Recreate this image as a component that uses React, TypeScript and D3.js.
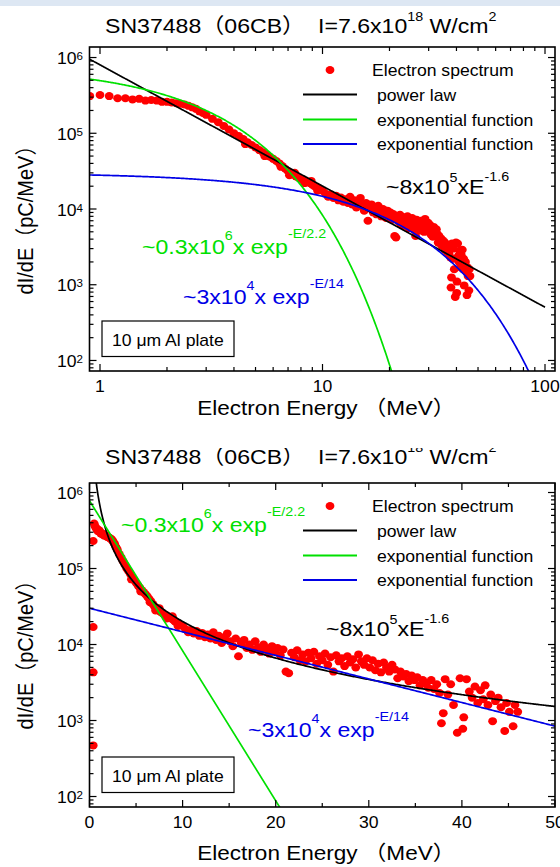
import React from 'react';
import * as d3 from 'd3';

const W = 560;
const H = 867;
const SX = 1.1; // text is drawn slightly wide
const FONT = "'Liberation Sans', Arial, 'Noto Sans CJK SC', sans-serif";

const RED = '#ff0000';
const GREEN = '#00e000';
const BLUE = '#0000e6';
const BLACK = '#000000';

// Fitted curves
const powerAmp = 8e5;
const powerIdx = -1.6;
const hotAmp = 7.8e5;
const hotTemp = 2.2;
const warmAmp = 3e4;
const warmTemp = 14;

// Measured electron spectrum: [energy MeV, dI/dE pC/MeV]
const spectrum: [number, number][] = [
  [0.4, 2.3e5], [0.4, 1.7e4], [0.4, 4.3e3], [0.4, 470],
  [0.5, 3.9e5], [0.6, 3.6e5], [0.7, 3.4e5], [0.8, 3.3e5], [0.9, 3.1e5], [1.0, 3.2e5],
  [1.1, 3.1e5], [1.2, 2.9e5], [1.3, 2.9e5], [1.4, 2.8e5], [1.5, 2.85e5], [1.6, 2.7e5],
  [1.7, 2.75e5], [1.8, 2.7e5], [1.9, 2.6e5], [2.0, 2.6e5], [2.1, 2.55e5], [2.2, 2.5e5],
  [2.3, 2.45e5], [2.4, 2.4e5], [2.5, 2.3e5], [2.6, 2.2e5], [2.7, 2.1e5], [2.8, 1.95e5],
  [2.9, 1.85e5], [3.0, 1.75e5],
  [3.2, 1.55e5], [3.4, 1.4e5], [3.6, 1.25e5], [3.8, 1.12e5], [4.0, 1.0e5], [4.2, 9.2e4],
  [4.4, 8.4e4], [4.5, 7.2e4], [4.6, 7.6e4], [4.8, 7.0e4], [5.0, 6.5e4], [5.2, 6.0e4],
  [5.4, 5.6e4], [5.5, 5.0e4], [5.6, 5.2e4], [5.8, 4.9e4], [6.0, 4.6e4], [6.2, 4.3e4],
  [6.4, 4.0e4], [6.5, 3.6e4], [6.6, 3.7e4], [6.8, 3.4e4], [7.0, 3.15e4], [7.1, 2.8e4],
  [7.2, 3.0e4], [7.4, 2.85e4], [7.5, 3.0e4], [7.6, 2.7e4], [7.8, 2.6e4], [8.0, 2.5e4],
  [8.2, 2.45e4], [8.3, 2.2e4], [8.4, 2.35e4], [8.6, 2.25e4], [8.8, 2.2e4], [8.9, 2.35e4],
  [9.0, 2.1e4], [9.2, 2.0e4], [9.4, 1.95e4], [9.5, 1.75e4], [9.6, 1.85e4], [9.8, 1.8e4],
  [10.0, 1.75e4],
  [10.3, 1.6e4], [10.6, 1.45e4], [10.9, 1.55e4], [11.2, 1.4e4], [11.5, 1.5e4], [11.8, 1.3e4],
  [12.1, 1.42e4], [12.4, 1.25e4], [12.7, 1.35e4], [13.0, 1.2e4], [13.3, 1.45e4], [13.6, 1.15e4],
  [13.9, 1.3e4], [14.2, 1.05e4], [14.5, 1.25e4], [14.8, 1.4e4], [15.1, 1.1e4], [15.4, 9.5e3],
  [15.7, 1.2e4], [16.0, 7.0e3], [16.3, 1.05e4], [16.6, 1.15e4], [16.9, 9.0e3], [17.2, 1.0e4],
  [17.5, 8.5e3], [17.8, 1.1e4], [18.1, 9.2e3], [18.4, 8.0e3], [18.7, 1.0e4], [19.0, 8.8e3],
  [19.3, 7.6e3], [19.6, 9.5e3], [19.9, 8.2e3], [20.2, 9.0e3], [20.5, 7.2e3], [20.8, 8.6e3],
  [21.1, 4.4e3], [21.4, 4.2e3], [21.7, 7.8e3], [22.0, 6.8e3], [22.3, 8.4e3], [22.6, 6.2e3],
  [22.9, 7.4e3], [23.2, 6.0e3], [23.5, 7.8e3], [23.8, 6.6e3], [24.1, 8.0e3], [24.4, 5.6e3],
  [24.7, 7.0e3], [25.0, 6.2e3], [25.3, 7.6e3], [25.6, 5.4e3], [25.9, 6.8e3], [26.2, 4.4e3],
  [26.5, 7.2e3], [26.8, 6.0e3], [27.1, 6.6e3], [27.4, 5.2e3], [27.7, 7.0e3], [28.0, 5.8e3],
  [28.3, 6.4e3], [28.6, 5.0e3], [28.9, 7.4e3], [29.2, 6.0e3], [29.5, 5.4e3], [29.8, 6.6e3],
  [30.1, 5.0e3], [30.4, 6.2e3], [30.7, 4.6e3], [31.0, 5.6e3], [31.3, 4.3e3], [31.6, 5.8e3],
  [31.9, 5.0e3], [32.2, 4.4e3], [32.5, 5.4e3], [32.8, 4.7e3], [33.1, 3.6e3], [33.4, 4.4e3],
  [33.7, 3.8e3], [34.0, 4.1e3], [34.3, 3.3e3], [34.6, 3.9e3], [34.9, 3.4e3], [35.2, 3.7e3],
  [35.5, 2.9e3], [35.8, 3.4e3],
  [36.1, 3.1e3], [36.4, 2.7e3], [36.7, 3.4e3], [37.0, 2.6e3], [37.3, 3.0e3], [37.6, 2.3e3],
  [37.8, 920], [38.0, 1.25e3], [38.2, 3.5e3], [38.5, 2.2e3], [38.8, 3.0e3], [39.1, 1.6e3],
  [39.5, 690], [39.8, 3.6e3], [40.1, 780], [40.2, 1.1e3], [40.5, 3.5e3], [40.8, 2.4e3],
  [41.1, 2.0e3], [41.4, 2.8e3], [41.7, 1.7e3], [42.0, 2.5e3], [42.3, 1.9e3], [42.5, 2.9e3],
  [42.8, 1.6e3], [43.1, 2.2e3], [43.3, 980], [43.6, 1.8e3], [43.9, 2.0e3], [44.2, 1.5e3],
  [44.6, 730], [44.8, 1.7e3], [45.1, 1.3e3], [45.5, 840], [45.7, 1.6e3], [46.0, 1.3e3],
];

const decadeExps = [2, 3, 4, 5, 6];
const logEnergyTicks = [1, 10, 100];
const linEnergyTicks = [0, 10, 20, 30, 40, 50];
const linEnergyMinor = [5, 15, 25, 35, 45];
const legendLabels = ['Electron spectrum', 'power law', 'exponential function', 'exponential function'];
const legendColors = [RED, BLACK, GREEN, BLUE];

type PanelCfg = {
  id: string;
  logX: boolean;
  left: number; right: number; top: number; bottom: number;
  xDomain: [number, number];
  yDomain: [number, number];
  titleY: number;
  tickLabelY: number;
  xTitleY: number;
  yTitleY: number;
  legendY: number;
  power: [number, number];
  hot: [number, number];
  warm: [number, number];
  boxY: number;
  powerRange: [number, number];
  hotRange: [number, number];
  warmRange: [number, number];
  clipTitle?: number;
};

const panels: PanelCfg[] = [
  {
    id: 'logE', logX: true,
    left: 89.5, right: 555, top: 47, bottom: 371,
    xDomain: [0.897, 110.9], yDomain: [Math.pow(10, 1.861), Math.pow(10, 6.139)],
    titleY: 33, tickLabelY: 392, xTitleY: 415, yTitleY: 215, legendY: 70,
    power: [386, 194], hot: [142, 254], warm: [183, 304], boxY: 321,
    powerRange: [0.897, 100], hotRange: [0.897, 40], warmRange: [0.897, 110.9],
  },
  {
    id: 'linE', logX: false,
    left: 89.5, right: 555, top: 483, bottom: 807,
    xDomain: [0, 50], yDomain: [Math.pow(10, 1.862), Math.pow(10, 6.125)],
    titleY: 464, tickLabelY: 828, xTitleY: 860, yTitleY: 650, legendY: 506,
    power: [326, 636], hot: [121, 532], warm: [248, 737], boxY: 757,
    powerRange: [0.3, 50], hotRange: [0, 30], warmRange: [0, 50],
    clipTitle: 448,
  },
];

function Txt(props: {
  x: number; y: number; size: number; anchor?: string; fill?: string; rotate?: boolean;
  children: React.ReactNode;
}) {
  const { x, y, size, anchor = 'start', fill = BLACK, rotate = false, children } = props;
  return (
    <text
      transform={`translate(${x},${y}) scale(${SX},1)${rotate ? ' rotate(-90)' : ''}`}
      fontSize={size}
      textAnchor={anchor}
      fill={fill}
      fontFamily={FONT}
      style={{ whiteSpace: 'pre' }}
    >
      {children}
    </text>
  );
}

function logMinor(lo: number, hi: number): number[] {
  const out: number[] = [];
  for (let n = Math.floor(Math.log10(lo)); n <= Math.ceil(Math.log10(hi)); n++) {
    for (let k = 2; k <= 9; k++) {
      const v = k * Math.pow(10, n);
      if (v >= lo && v <= hi) out.push(v);
    }
  }
  return out;
}

function Panel({ cfg }: { cfg: PanelCfg }) {
  const x: any = cfg.logX
    ? d3.scaleLog().domain(cfg.xDomain).range([cfg.left, cfg.right])
    : d3.scaleLinear().domain(cfg.xDomain).range([cfg.left, cfg.right]);
  const y = d3.scaleLog().domain(cfg.yDomain).range([cfg.bottom, cfg.top]);

  const sample = (r: [number, number]) => {
    const n = 400;
    return d3.range(n + 1).map((i) =>
      cfg.logX
        ? Math.pow(10, Math.log10(r[0]) + ((Math.log10(r[1]) - Math.log10(r[0])) * i) / n)
        : r[0] + ((r[1] - r[0]) * i) / n
    );
  };
  const line = d3
    .line<[number, number]>()
    .x((d) => x(d[0]))
    .y((d) => y(Math.min(Math.max(d[1], 1), 1e8)));

  const powerPath = line(sample(cfg.powerRange).map((e) => [e, powerAmp * Math.pow(e, powerIdx)]));
  const hotPath = line(sample(cfg.hotRange).map((e) => [e, hotAmp * Math.exp(-e / hotTemp)]));
  const warmPath = line(sample(cfg.warmRange).map((e) => [e, warmAmp * Math.exp(-e / warmTemp)]));

  const clipId = `clip-${cfg.id}`;
  const majorLen = 7;
  const minorLen = 4;

  const yMajor = decadeExps.map((p) => Math.pow(10, p));
  const yMinor = logMinor(cfg.yDomain[0], cfg.yDomain[1]);
  const xMajor = cfg.logX ? logEnergyTicks : linEnergyTicks;
  const xMinor = cfg.logX ? logMinor(cfg.xDomain[0], cfg.xDomain[1]).filter((v) => v > 1) : linEnergyMinor;

  const pts = spectrum.filter((d) => d[0] >= cfg.xDomain[0] && d[0] <= cfg.xDomain[1]);

  const tickLines: React.ReactNode[] = [];
  yMajor.forEach((v, i) => {
    const yy = y(v);
    tickLines.push(<line key={`ym${i}`} x1={cfg.left} x2={cfg.left + majorLen} y1={yy} y2={yy} />);
    tickLines.push(<line key={`ymr${i}`} x1={cfg.right} x2={cfg.right - majorLen} y1={yy} y2={yy} />);
  });
  yMinor.forEach((v, i) => {
    const yy = y(v);
    tickLines.push(<line key={`yn${i}`} x1={cfg.left} x2={cfg.left + minorLen} y1={yy} y2={yy} />);
    tickLines.push(<line key={`ynr${i}`} x1={cfg.right} x2={cfg.right - minorLen} y1={yy} y2={yy} />);
  });
  xMajor.forEach((v, i) => {
    const xx = x(v);
    tickLines.push(<line key={`xm${i}`} x1={xx} x2={xx} y1={cfg.bottom} y2={cfg.bottom - majorLen} />);
    tickLines.push(<line key={`xmt${i}`} x1={xx} x2={xx} y1={cfg.top} y2={cfg.top + majorLen} />);
  });
  xMinor.forEach((v, i) => {
    const xx = x(v);
    tickLines.push(<line key={`xn${i}`} x1={xx} x2={xx} y1={cfg.bottom} y2={cfg.bottom - minorLen} />);
    tickLines.push(<line key={`xnt${i}`} x1={xx} x2={xx} y1={cfg.top} y2={cfg.top + minorLen} />);
  });

  const titleClip = `title-${cfg.id}`;
  const ly = cfg.legendY;
  const legendRows = [0, 24.5, 49.5, 74];

  return (
    <g>
      <defs>
        <clipPath id={clipId}>
          <rect x={cfg.left} y={cfg.top} width={cfg.right - cfg.left} height={cfg.bottom - cfg.top} />
        </clipPath>
        {cfg.clipTitle !== undefined && (
          <clipPath id={titleClip}>
            <rect x={0} y={cfg.clipTitle} width={W} height={60} />
          </clipPath>
        )}
      </defs>

      {/* Title */}
      <g clipPath={cfg.clipTitle !== undefined ? `url(#${titleClip})` : undefined}>
        <Txt x={105} y={cfg.titleY} size={21}>
          SN37488（06CB）  I=7.6x10
          <tspan fontSize={13} dy={-12}>18</tspan>
          <tspan dy={12}> W/cm</tspan>
          <tspan fontSize={13} dy={-12}>2</tspan>
        </Txt>
      </g>

      {/* Data and fits */}
      <g clipPath={`url(#${clipId})`}>
        {pts.map((d, i) => (
          <ellipse key={i} cx={x(d[0])} cy={y(d[1])} rx={4.4} ry={4} fill={RED} />
        ))}
        <path d={powerPath || ''} fill="none" stroke={BLACK} strokeWidth={1.7} />
        <path d={hotPath || ''} fill="none" stroke={GREEN} strokeWidth={1.7} />
        <path d={warmPath || ''} fill="none" stroke={BLUE} strokeWidth={1.7} />
      </g>

      {/* Frame and ticks */}
      <g stroke={BLACK} strokeWidth={1.2}>{tickLines}</g>
      <rect
        x={cfg.left} y={cfg.top} width={cfg.right - cfg.left} height={cfg.bottom - cfg.top}
        fill="none" stroke={BLACK} strokeWidth={1.6}
      />

      {/* Tick labels */}
      {decadeExps.map((p) => (
        <Txt key={`yl${p}`} x={83} y={y(Math.pow(10, p)) + 6.5} size={16} anchor="end">
          10<tspan fontSize={10.5} dy={-4}>{p}</tspan>
        </Txt>
      ))}
      {xMajor.map((v) => (
        <Txt key={`xl${v}`} x={x(v)} y={cfg.tickLabelY} size={16} anchor="middle">
          {String(v)}
        </Txt>
      ))}

      {/* Axis titles */}
      <Txt x={(cfg.left + cfg.right) / 2 + 4} y={cfg.xTitleY} size={20.5} anchor="middle">
        Electron Energy （MeV）
      </Txt>
      <Txt x={33} y={cfg.yTitleY} size={20} anchor="middle" rotate>
        dI/dE（pC/MeV）
      </Txt>

      {/* Legend */}
      <ellipse cx={330} cy={ly} rx={4.4} ry={4} fill={RED} />
      {legendRows.slice(1).map((dy, i) => (
        <line key={`lg${i}`} x1={303} x2={357} y1={ly + dy} y2={ly + dy} stroke={legendColors[i + 1]} strokeWidth={2} />
      ))}
      {legendLabels.map((t, i) => (
        <Txt key={`lt${i}`} x={i === 0 ? 372 : 377} y={ly + legendRows[i] + 6} size={16}>
          {t}
        </Txt>
      ))}

      {/* Fit formulas */}
      <Txt x={cfg.power[0]} y={cfg.power[1]} size={21}>
        ~8x10<tspan fontSize={13} dy={-12}>5</tspan>
        <tspan dy={12}>xE</tspan>
        <tspan fontSize={13} dy={-13}>-1.6</tspan>
      </Txt>
      <Txt x={cfg.hot[0]} y={cfg.hot[1]} size={21} fill={GREEN}>
        ~0.3x10<tspan fontSize={13} dy={-14}>6</tspan>
        <tspan dy={14}>x exp</tspan>
        <tspan fontSize={13} dy={-16}>-E/2.2</tspan>
      </Txt>
      <Txt x={cfg.warm[0]} y={cfg.warm[1]} size={21} fill={BLUE}>
        ~3x10<tspan fontSize={13} dy={-14}>4</tspan>
        <tspan dy={14}>x exp</tspan>
        <tspan fontSize={13} dy={-16}>-E/14</tspan>
      </Txt>

      {/* Target note */}
      <rect x={102} y={cfg.boxY} width={132} height={35.5} fill="none" stroke={BLACK} strokeWidth={1.2} />
      <Txt x={112} y={cfg.boxY + 25} size={16}>
        10 μm Al plate
      </Txt>
    </g>
  );
}

export default function App() {
  return (
    <svg
      width={W}
      height={H}
      viewBox={`0 0 ${W} ${H}`}
      style={{ position: 'absolute', left: 0, top: 0, background: '#ffffff' }}
    >
      <rect x={0} y={0} width={W} height={H} fill="#ffffff" />
      <rect x={0} y={0} width={W} height={6} fill="#dde7f3" />
      {panels.map((p) => (
        <Panel key={p.id} cfg={p} />
      ))}
    </svg>
  );
}
